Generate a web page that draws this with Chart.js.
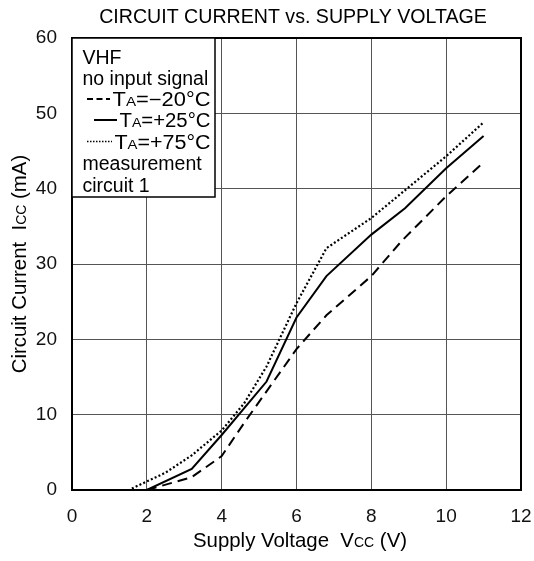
<!DOCTYPE html>
<html>
<head>
<meta charset="utf-8">
<script src="https://cdn.jsdelivr.net/npm/chart.js@4"></script>
<style>
  html, body { margin: 0; padding: 0; background: #fff; }
  #wrap { width: 534px; height: 561px; }
</style>
</head>
<body>
<div id="wrap"><canvas id="chart1"></canvas></div>
<script>
// supply voltage (V) / circuit current (mA) per ambient temperature
const vccCold = [2, 3.2, 4, 4.6, 5.2, 6, 6.8, 8, 8.8, 10, 11];
const iccCold = [0, 1.7, 4.5, 8.9, 13.1, 18.7, 23.2, 28.4, 33, 39, 43.5];
const vccRoom = [2, 3.2, 4, 5.2, 6, 6.8, 8, 8.9, 10, 11];
const iccRoom = [0, 2.8, 7.3, 14.4, 22.9, 28.4, 33.9, 37.4, 42.7, 47.0];
const vccHot = [1.6, 2.5, 3.2, 4, 4.6, 5.2, 6, 6.8, 8, 10, 11];
const iccHot = [0.2, 2.3, 4.6, 7.9, 11.5, 16.4, 24.8, 32.1, 36.1, 44.3, 48.8];

const xTicks = [0, 2, 4, 6, 8, 10, 12];
const yTicks = [0, 10, 20, 30, 40, 50, 60];

const FONT = "'Liberation Sans', Arial, sans-serif";

function pts(xs, ys) {
  return xs.map((x, i) => ({ x: x, y: ys[i] }));
}

// draws a run of [text, size] pieces on one baseline
function drawRuns(ctx, runs, x, y) {
  let cx = x;
  runs.forEach(r => {
    ctx.font = r[1] + 'px ' + FONT;
    ctx.fillText(r[0], cx, y);
    cx += ctx.measureText(r[0]).width;
  });
  return cx;
}
function runsWidth(ctx, runs) {
  let w = 0;
  runs.forEach(r => {
    ctx.font = r[1] + 'px ' + FONT;
    w += ctx.measureText(r[0]).width;
  });
  return w;
}

const decorations = {
  id: 'decorations',
  afterDraw(chart) {
    const { ctx, chartArea: a } = chart;
    ctx.save();
    ctx.fillStyle = '#000';
    ctx.textBaseline = 'alphabetic';
    ctx.textAlign = 'left';

    // title
    const tr = [['CIRCUIT CURRENT vs. SUPPLY VOLTAGE', 19.6]];
    drawRuns(ctx, tr, 293 - runsWidth(ctx, tr) / 2, 23);

    // x axis title
    const xr = [['Supply Voltage  V', 20.4], ['CC', 14], [' (V)', 20.4]];
    drawRuns(ctx, xr, 300 - runsWidth(ctx, xr) / 2, 547);

    // y axis title
    const yr = [['Circuit Current  I', 20.4], ['CC', 14], [' (mA)', 20.4]];
    ctx.save();
    ctx.translate(26, (a.top + a.bottom) / 2);
    ctx.rotate(-Math.PI / 2);
    drawRuns(ctx, yr, -runsWidth(ctx, yr) / 2, 0);
    ctx.restore();

    // frame
    ctx.strokeStyle = '#000';
    ctx.lineWidth = 2;
    ctx.strokeRect(a.left, a.top, a.right - a.left, a.bottom - a.top);

    // legend box
    const bx = a.left, by = a.top, bw = 143, bh = 159;
    ctx.fillStyle = '#fff';
    ctx.fillRect(bx, by, bw, bh);
    ctx.lineWidth = 1.5;
    ctx.strokeRect(bx, by, bw, bh);
    ctx.fillStyle = '#000';
    const lx = bx + 10.5;
    const fs = 19.5, sub = 13.5;
    drawRuns(ctx, [['VHF', fs]], lx, by + 25.5);
    drawRuns(ctx, [['no input signal', fs]], lx, by + 46.5);
    const rows = [
      { y: by + 68, dash: [6, 3.5], x0: bx + 15, x1: bx + 38, w: 2 },
      { y: by + 89, dash: [], x0: bx + 22, x1: bx + 45, w: 2 },
      { y: by + 110.5, dash: [1.5, 1.5], x0: bx + 15, x1: bx + 40, w: 1.5 }
    ];
    const labels = ['=\u221220\u00b0C', '=+25\u00b0C', '=+75\u00b0C'];
    const textEnd = bx + 138.5;
    rows.forEach((r, i) => {
      ctx.beginPath();
      ctx.setLineDash(r.dash);
      ctx.lineWidth = r.w;
      ctx.moveTo(r.x0, r.y - 7);
      ctx.lineTo(r.x1, r.y - 7);
      ctx.stroke();
      ctx.setLineDash([]);
      // temperature labels run out to the right edge of the box
      const runs = [['T', fs], ['A', sub], [labels[i], fs]];
      const tx = r.x1 + 2.5;
      ctx.save();
      ctx.translate(tx, r.y);
      ctx.scale((textEnd - tx) / runsWidth(ctx, runs), 1);
      drawRuns(ctx, runs, 0, 0);
      ctx.restore();
    });
    drawRuns(ctx, [['measurement', fs]], lx, by + 132);
    drawRuns(ctx, [['circuit 1', fs]], lx, by + 153.5);
    ctx.restore();
  }
};

const ctx = document.getElementById('chart1');

new Chart(ctx, {
  type: 'scatter',
  data: {
    datasets: [{
      label: 'TA=-20C',
      data: pts(vccCold, iccCold),
      borderColor: '#000',
      borderDash: [10, 6]
    }, {
      label: 'TA=+25C',
      data: pts(vccRoom, iccRoom),
      borderColor: '#000',
      borderDash: []
    }, {
      label: 'TA=+75C',
      data: pts(vccHot, iccHot),
      borderColor: '#000',
      borderWidth: 2.2,
      borderDash: [2, 2.2]
    }]
  },
  options: {
    responsive: true,
    maintainAspectRatio: false,
    animation: false,
    showLine: true,
    layout: { padding: { top: 38, right: 13, left: 0, bottom: 0 } },
    elements: {
      line: { borderWidth: 2, tension: 0, fill: false },
      point: { radius: 0 }
    },
    plugins: {
      legend: { display: false },
      tooltip: { enabled: false }
    },
    scales: {
      x: {
        type: 'linear',
        min: 0,
        max: 12,
        afterBuildTicks: s => { s.ticks = xTicks.map(v => ({ value: v })); },
        afterFit: s => { s.height = 71; s.paddingLeft = 0; s.paddingRight = 0; },
        grid: { color: '#555', lineWidth: 1, drawTicks: false },
        border: { display: false },
        ticks: { color: '#111', padding: 15, font: { family: FONT, size: 19 } }
      },
      y: {
        type: 'linear',
        min: 0,
        max: 60,
        afterBuildTicks: s => { s.ticks = yTicks.map(v => ({ value: v })); },
        afterFit: s => { s.width = 72; s.paddingTop = 0; s.paddingBottom = 0; },
        grid: { color: '#555', lineWidth: 1, drawTicks: false },
        border: { display: false },
        ticks: { color: '#111', padding: 15, font: { family: FONT, size: 19 } }
      }
    }
  },
  plugins: [decorations]
});
</script>
</body>
</html>
